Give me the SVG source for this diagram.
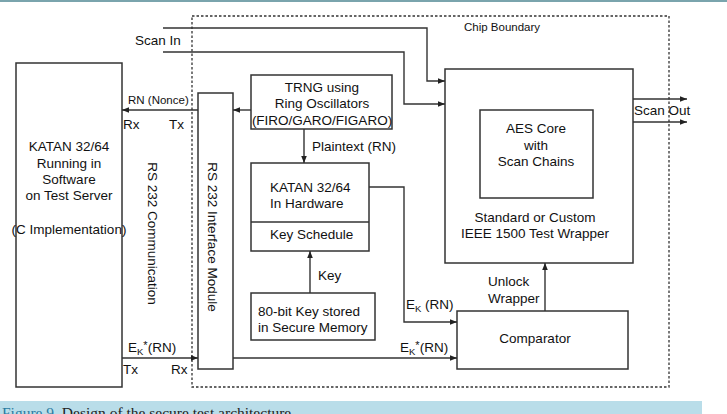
<svg xmlns="http://www.w3.org/2000/svg" width="727" height="414" viewBox="0 0 727 414">
<defs>
<marker id="ah" viewBox="0 0 10 10" refX="10" refY="5" markerWidth="7" markerHeight="7" orient="auto" markerUnits="userSpaceOnUse">
<path d="M0,1 L10,5 L0,9 z" fill="#222"/>
</marker>
<style>
text{font-family:"Liberation Sans",Arial,Helvetica,sans-serif;font-size:13.5px;fill:#111}
.sm{font-size:11.5px}
.box{fill:#fff;stroke:#333;stroke-width:1.5}
.ln{fill:none;stroke:#333;stroke-width:1.4}
.arr{fill:none;stroke:#333;stroke-width:1.4;marker-end:url(#ah)}
.mid{text-anchor:middle}
.cap{font-family:"Liberation Serif","Times New Roman",serif;font-size:15.5px;fill:#222}
</style>
</defs>
<rect x="0" y="0" width="727" height="414" fill="#fff"/>
<rect x="0" y="0" width="727" height="2" fill="#7aa4ad"/>

<g id="chip-boundary">
<rect x="192" y="16" width="477" height="371" fill="none" stroke="#333" stroke-width="1.3" stroke-dasharray="2.5,2"/>
<text class="sm" x="464" y="31">Chip Boundary</text>
</g>

<g id="katan-software">
<rect class="box" x="16" y="63" width="106" height="324"/>
<text class="mid" x="69" y="151">KATAN 32/64</text>
<text class="mid" x="69" y="168">Running in</text>
<text class="mid" x="69" y="184">Software</text>
<text class="mid" x="69" y="200">on Test Server</text>
<text class="mid" x="69" y="234">(C Implementation)</text>
</g>

<g id="rs232-communication">
<text class="mid" transform="translate(153,233.5) rotate(90)" y="4.7">RS 232 Communication</text>
</g>

<g id="rs232-module">
<rect class="box" x="198" y="93" width="35" height="276"/>
<text class="mid" transform="translate(213,237) rotate(90)" y="4.7">RS 232 Interface Module</text>
</g>

<g id="trng">
<rect class="box" x="251" y="75" width="141" height="54"/>
<text class="mid" x="322" y="92">TRNG using</text>
<text class="mid" x="322" y="108">Ring Oscillators</text>
<text class="mid" x="322" y="125">(FIRO/GARO/FIGARO)</text>
</g>

<g id="katan-hardware">
<rect class="box" x="251" y="163" width="118" height="88"/>
<line class="ln" x1="251" y1="222" x2="369" y2="222"/>
<text x="270" y="192">KATAN 32/64</text>
<text x="270" y="208">In Hardware</text>
<text x="270" y="239">Key Schedule</text>
</g>

<g id="key-memory">
<rect class="box" x="251" y="293" width="124" height="47"/>
<text x="258" y="316">80-bit Key stored</text>
<text x="258" y="332">in Secure Memory</text>
</g>

<g id="wrapper">
<rect class="box" x="445" y="69" width="188" height="194"/>
<text class="mid" x="535" y="222">Standard or Custom</text>
<text class="mid" x="535" y="238">IEEE 1500 Test Wrapper</text>
</g>

<g id="aes-core">
<rect class="box" x="480" y="110" width="113" height="88"/>
<text class="mid" x="536" y="133">AES Core</text>
<text class="mid" x="536" y="150">with</text>
<text class="mid" x="536" y="166">Scan Chains</text>
</g>

<g id="comparator">
<rect class="box" x="457" y="311" width="171" height="58"/>
<text class="mid" x="535" y="343">Comparator</text>
</g>

<g id="connectors">
<text x="135" y="45">Scan In</text>
<polyline class="arr" points="163,28 427,28 427,81 445,81"/>
<polyline class="arr" points="163,52 404,52 404,104 445,104"/>

<line class="arr" x1="198" y1="110" x2="122" y2="110"/>
<text class="sm" x="128" y="104">RN (Nonce)</text>
<text x="123" y="129">Rx</text>
<text x="169" y="129">Tx</text>
<line class="arr" x1="251" y1="110" x2="233" y2="110"/>

<line class="arr" x1="304" y1="129" x2="304" y2="163"/>
<text x="312" y="151">Plaintext (RN)</text>

<line class="arr" x1="310" y1="293" x2="310" y2="251"/>
<text x="318" y="280">Key</text>

<polyline class="arr" points="369,187 404,187 404,322 457,322"/>
<text x="406" y="309">E<tspan font-size="9.5" dy="3">K</tspan><tspan dy="-3"> (RN)</tspan></text>

<line class="arr" x1="122" y1="358" x2="198" y2="358"/>
<text x="128" y="352">E<tspan font-size="9.5" dy="3">K</tspan><tspan font-size="11" dy="-6">*</tspan><tspan dy="3">(RN)</tspan></text>
<text x="123" y="374">Tx</text>
<text x="171" y="374">Rx</text>
<line class="arr" x1="233" y1="358" x2="457" y2="358"/>
<text x="400" y="352">E<tspan font-size="9.5" dy="3">K</tspan><tspan font-size="11" dy="-6">*</tspan><tspan dy="3">(RN)</tspan></text>

<line class="arr" x1="545" y1="311" x2="545" y2="263"/>
<text x="488" y="286">Unlock</text>
<text x="488" y="303">Wrapper</text>

<line class="arr" x1="633" y1="99" x2="687" y2="99"/>
<line class="arr" x1="633" y1="122" x2="687" y2="122"/>
<text x="634" y="115">Scan Out</text>
</g>

<g id="caption">
<rect x="0" y="401" width="702" height="13" fill="#b9dde9"/>
<text class="cap" x="2" y="418"><tspan fill="#2a7aa0">Figure 9.</tspan> Design of the secure test architecture.</text>
</g>
</svg>
